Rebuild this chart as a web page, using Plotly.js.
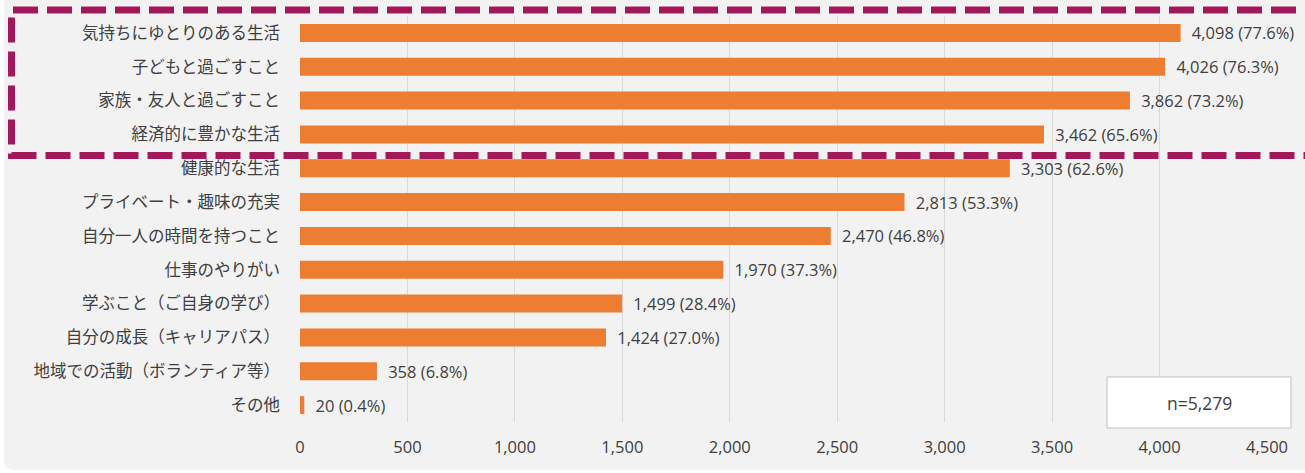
<!DOCTYPE html>
<html>
<head>
<meta charset="utf-8">
<script src="https://cdn.plot.ly/plotly-3.0.1.min.js"></script>
<style>
  html, body { margin: 0; padding: 0; background: #ffffff; }
  #wrap { position: relative; width: 1305px; height: 473px; overflow: hidden; }
  #bg { position: absolute; left: 4px; top: -10px; width: 1320px; height: 480px; background: #f2f2f2; border-radius: 9px; }
  #chart { position: absolute; left: 0; top: 0; width: 1305px; height: 473px; }
</style>
</head>
<body>
<div id="wrap">
  <div id="bg"></div>
  <div id="chart"></div>
</div>
<script>
// Data
const categories = [
  "気持ちにゆとりのある生活",
  "子どもと過ごすこと",
  "家族・友人と過ごすこと",
  "経済的に豊かな生活",
  "健康的な生活",
  "プライベート・趣味の充実",
  "自分一人の時間を持つこと",
  "仕事のやりがい",
  "学ぶこと（ご自身の学び）",
  "自分の成長（キャリアパス）",
  "地域での活動（ボランティア等）",
  "その他"
];
const counts = [4098, 4026, 3862, 3462, 3303, 2813, 2470, 1970, 1499, 1424, 358, 20];
const percents = [77.6, 76.3, 73.2, 65.6, 62.6, 53.3, 46.8, 37.3, 28.4, 27.0, 6.8, 0.4];
const xTickVals = [0, 500, 1000, 1500, 2000, 2500, 3000, 3500, 4000, 4500];
const xTickText = ["0", "500", "1,000", "1,500", "2,000", "2,500", "3,000", "3,500", "4,000", "4,500"];
const sampleNote = "n=5,279";

const labels = counts.map((v, i) => "\u2002" + v.toLocaleString("en-US") + " (" + percents[i].toFixed(1) + "%)");

const W = 1305, H = 473;
const M = { l: 300, r: 38, t: 16, b: 51 };
const pw = W - M.l - M.r, ph = H - M.t - M.b;
const px = x => (x - M.l) / pw;
const py = y => (H - M.b - y) / ph;

const trace = {
  type: "bar",
  orientation: "h",
  x: counts,
  y: categories,
  text: labels,
  textposition: "outside",
  constraintext: "none",
  cliponaxis: false,
  textfont: { family: "Open Sans, sans-serif", size: 16.5, color: "#3f3f3f" },
  marker: { color: "#ed7d31", line: { width: 0 } },
  width: 0.53,
  hoverinfo: "none"
};

const layout = {
  width: W, height: H,
  margin: M,
  paper_bgcolor: "rgba(0,0,0,0)",
  plot_bgcolor: "rgba(0,0,0,0)",
  showlegend: false,
  xaxis: {
    range: [0, 4500],
    tickvals: xTickVals,
    ticktext: xTickText,
    showgrid: true,
    gridcolor: "#d9d9d9",
    gridwidth: 1,
    zeroline: false,
    showline: false,
    ticks: "",
    ticklen: 0,
    ticklabelstandoff: 13,
    tickfont: { family: "Open Sans, sans-serif", size: 16.5, color: "#404040" },
    fixedrange: true
  },
  yaxis: {
    autorange: "reversed",
    type: "category",
    showgrid: false,
    zeroline: false,
    showline: false,
    ticks: "",
    ticklabelstandoff: 19,
    tickfont: { family: "Noto Sans CJK JP, sans-serif", size: 16.5, color: "#404040" },
    fixedrange: true
  },
  shapes: [
    {
      type: "rect", xref: "paper", yref: "paper",
      x0: px(1107), x1: px(1291), y0: py(428), y1: py(377),
      fillcolor: "#ffffff", line: { color: "#bfbfbf", width: 1 }, layer: "above"
    },
    {
      type: "rect", xref: "paper", yref: "paper",
      x0: px(11.5), x1: px(1312), y0: py(155.5), y1: py(10),
      fillcolor: "rgba(0,0,0,0)", line: { color: "#a3185a", width: 7, dash: "25px,9px" }, layer: "above"
    }
  ],
  annotations: [
    {
      xref: "paper", yref: "paper",
      x: px(1199), y: py(403),
      text: sampleNote, showarrow: false,
      font: { family: "Open Sans, sans-serif", size: 17.5, color: "#404040" },
      xanchor: "center", yanchor: "middle"
    }
  ]
};

Plotly.newPlot("chart", [trace], layout, { staticPlot: true, displayModeBar: false });
</script>
</body>
</html>
